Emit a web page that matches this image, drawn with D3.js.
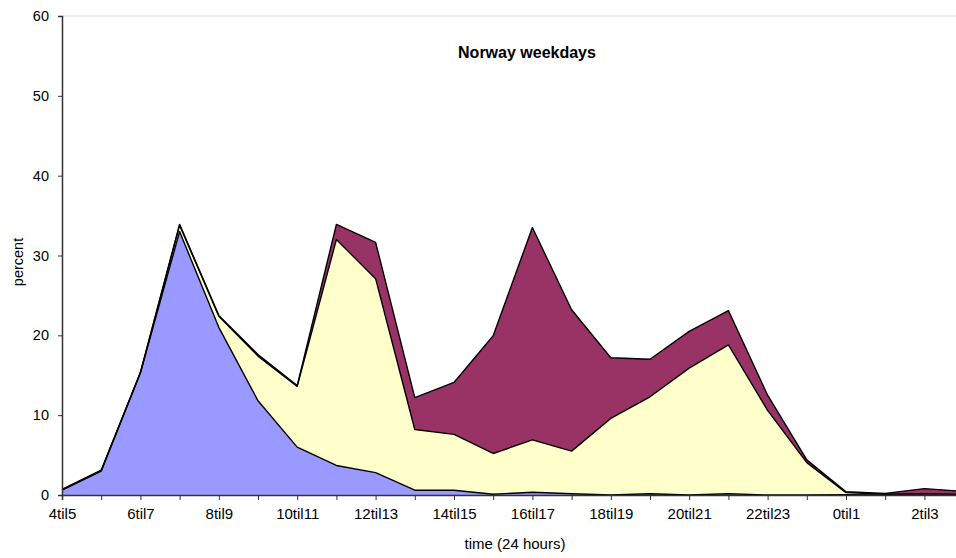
<!DOCTYPE html>
<html>
<head>
<meta charset="utf-8">
<script src="https://cdn.jsdelivr.net/npm/d3@7"></script>
<style>
  html, body { margin: 0; padding: 0; background: #fff; }
  svg { display: block; }
  text { font-family: "Liberation Sans", Arial, sans-serif; fill: #000; }
</style>
</head>
<body>
<svg id="chart" width="956" height="558"></svg>
<script>
const categories = ["4til5","5til6","6til7","7til8","8til9","9til10","10til11","11til12","12til13","13til14","14til15","15til16","16til17","17til18","18til19","19til20","20til21","21til22","22til23","23til0","0til1","1til2","2til3","3til4"];
const seriesNames = ["series1", "series2", "series3"];
const series1 = [0.6, 3.0, 15.3, 33.0, 21.0, 11.8, 6.0, 3.7, 2.8, 0.6, 0.6, 0.1, 0.35, 0.15, 0.0, 0.15, 0.0, 0.15, 0.0, 0.0, 0.05, 0.0, 0.0, 0.0];
const series2 = [0.05, 0.05, 0.0, 0.8, 1.4, 5.6, 7.6, 28.3, 24.3, 7.6, 7.0, 5.1, 6.55, 5.35, 9.6, 12.15, 15.9, 18.65, 10.6, 4.05, 0.25, 0.1, 0.15, 0.1];
const series3 = [0.05, 0.05, 0.05, 0.1, 0.1, 0.2, 0.1, 1.9, 4.55, 4.0, 6.5, 14.75, 26.6, 17.7, 7.6, 4.7, 4.6, 4.3, 1.9, 0.35, 0.1, 0.1, 0.65, 0.35];
const yTicks = [0, 10, 20, 30, 40, 50, 60];
const xLabelEvery = 2;
const colors = ["#9999FF", "#FFFFCC", "#993366"];

const svg = d3.select("#chart");
const x = d3.scalePoint().domain(categories).range([62, 62 + 23 * 39.2]);
const y = d3.scaleLinear().domain([0, 60]).range([495, 16]);

const rows = categories.map((c, i) => ({cat: c, series1: series1[i], series2: series2[i], series3: series3[i]}));
const stacked = d3.stack().keys(seriesNames)(rows);

// top border of plot area
svg.append("line").attr("x1", 62).attr("x2", 956).attr("y1", 16).attr("y2", 16)
  .attr("stroke", "#d9d9d9").attr("stroke-width", 1);

const area = d3.area()
  .x(d => x(d.data.cat))
  .y0(d => y(d[0]))
  .y1(d => y(d[1]));
const topLine = d3.line()
  .x(d => x(d.data.cat))
  .y(d => y(d[1]));

svg.append("g").selectAll("path.area").data(stacked).join("path")
  .attr("class", "area")
  .attr("d", area)
  .attr("fill", (d, i) => colors[i])
  .attr("stroke", "none");

svg.append("g").selectAll("path.top").data(stacked).join("path")
  .attr("class", "top")
  .attr("d", topLine)
  .attr("fill", "none")
  .attr("stroke", "#000")
  .attr("stroke-width", 1.4)
  .attr("stroke-linejoin", "round");

// Y axis
const yAxis = d3.axisLeft(y).tickValues(yTicks).tickSize(4).tickPadding(9);
const gy = svg.append("g").attr("transform", "translate(62,0)").call(yAxis);
gy.select(".domain").attr("stroke", "#333").attr("stroke-width", 1.5);
gy.selectAll(".tick line").attr("stroke", "#333");
gy.selectAll(".tick text").style("font-size", "14.5px").style("font-family", "Liberation Sans, Arial, sans-serif");

// X axis
const xAxis = d3.axisBottom(x).tickSize(5).tickPadding(8)
  .tickFormat((d, i) => i % xLabelEvery === 0 ? d : "");
const gx = svg.append("g").attr("transform", "translate(0,495)").call(xAxis);
gx.select(".domain").attr("stroke", "#333").attr("stroke-width", 1.5);
gx.selectAll(".tick line").attr("stroke", "#333");
gx.selectAll(".tick text").style("font-size", "15px").style("font-family", "Liberation Sans, Arial, sans-serif");

// Titles
svg.append("text").attr("x", 527).attr("y", 58).attr("text-anchor", "middle")
  .style("font-size", "16px").style("font-weight", "bold").text("Norway weekdays");
svg.append("text").attr("x", 515).attr("y", 549).attr("text-anchor", "middle")
  .style("font-size", "15px").text("time (24 hours)");
svg.append("text").attr("transform", "translate(23,262) rotate(-90)").attr("text-anchor", "middle")
  .style("font-size", "14.5px").text("percent");
</script>
</body>
</html>
